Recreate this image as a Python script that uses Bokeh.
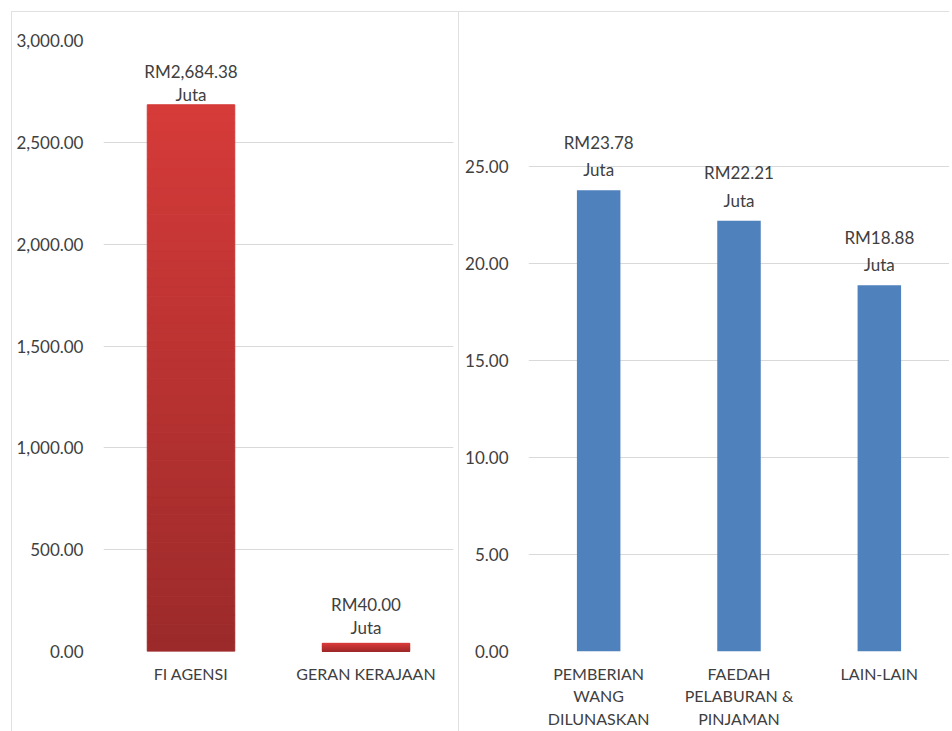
from bokeh.plotting import figure
from bokeh.layouts import row
from bokeh.models import NumeralTickFormatter, FixedTicker, Range1d
from bokeh.core.properties import value
from bokeh.embed import file_html
from bokeh.resources import INLINE

# ---- data ----
left_categories = ["FI AGENSI", "GERAN KERAJAAN"]
left_values = [2684.38, 40.00]
left_labels = ["RM2,684.38\nJuta", "RM40.00\nJuta"]
left_ticks = [0, 500, 1000, 1500, 2000, 2500, 3000]

right_categories = ["PEMBERIAN\nWANG\nDILUNASKAN", "FAEDAH\nPELABURAN &\nPINJAMAN", "LAIN-LAIN"]
right_values = [23.78, 22.21, 18.88]
right_labels = ["RM23.78\nJuta", "RM22.21\nJuta", "RM18.88\nJuta"]
right_ticks = [0, 5, 10, 15, 20, 25]

FONT = "Lato"
TXT = "#404040"
GRID = "#d9d9d9"
BORDER = "1px solid #e0e0e0"


def style(p, ticks):
    p.yaxis.ticker = FixedTicker(ticks=ticks)
    p.yaxis.formatter = NumeralTickFormatter(format="0,0.00")
    p.yaxis.axis_line_color = None
    p.yaxis.major_tick_line_color = None
    p.yaxis.minor_tick_line_color = None
    p.yaxis.major_tick_out = 0
    p.yaxis.major_tick_in = 0
    p.yaxis.minor_tick_out = 0
    p.yaxis.major_label_text_font = FONT
    p.yaxis.major_label_text_font_size = "17px"
    p.yaxis.major_label_text_color = TXT
    p.yaxis.major_label_standoff = 20
    p.xaxis.axis_line_color = None
    p.xaxis.major_tick_line_color = None
    p.xaxis.minor_tick_line_color = None
    p.xaxis.major_tick_out = 0
    p.xaxis.major_tick_in = 0
    p.xaxis.major_label_text_font = FONT
    p.xaxis.major_label_text_font_size = "16px"
    p.xaxis.major_label_text_color = TXT
    p.xaxis.major_label_standoff = 12
    p.xgrid.grid_line_color = None
    p.ygrid.grid_line_color = GRID
    p.ygrid.grid_line_width = 1
    p.outline_line_color = None
    p.background_fill_color = "white"
    p.border_fill_color = "white"


# ---- left chart ----
left = figure(x_range=left_categories, y_range=Range1d(0, 3000),
              frame_width=348, frame_height=610,
              min_border_left=91, min_border_right=7,
              min_border_top=28, min_border_bottom=81,
              output_backend="svg", toolbar_location=None)
left.margin = (11, 0, 0, 11)
style(left, left_ticks)
left.styles = {"border-left": BORDER, "border-top": BORDER, "border-right": BORDER}

# gradient bars built from segments of each value
top_rgb = (0xd5, 0x3b, 0x39)
bot_rgb = (0x9c, 0x2a, 0x2a)
n = 60
sx, sb, st, sc = [], [], [], []
for cat, v in zip(left_categories, left_values):
    for i in range(n):
        f = (i + 0.5) / n
        c = tuple(int(round(b + (t - b) * f)) for b, t in zip(bot_rgb, top_rgb))
        sx.append(cat)
        sb.append(v * i / n)
        st.append(v * (i + 1) / n)
        sc.append("#%02x%02x%02x" % c)
left.vbar(x=sx, bottom=sb, top=st, width=0.5, fill_color=sc, line_color=sc, line_width=1)
left.text(x=left_categories, y=left_values, text=left_labels,
          text_align="center", text_baseline="bottom", y_offset=[0, -5],
          text_font=value(FONT), text_font_size="17px", text_color=TXT,
          text_line_height=1.1)

# ---- right chart ----
right = figure(x_range=right_categories, y_range=Range1d(0, 31.5),
               frame_width=421, frame_height=610,
               min_border_left=69, min_border_right=0,
               min_border_top=28, min_border_bottom=81,
               output_backend="svg", toolbar_location=None)
right.margin = (11, 0, 0, 0)
style(right, right_ticks)
right.styles = {"border-top": BORDER}
right.vbar(x=right_categories, top=right_values, width=0.31,
           fill_color="#4f81bd", line_color=None)
right.text(x=right_categories, y=right_values, text=right_labels,
           text_align="center", text_baseline="bottom", y_offset=-10,
           text_font=value(FONT), text_font_size="17px", text_color=TXT,
           text_line_height=1.3)

layout = row(left, right, spacing=0)
open("out.html", "w").write(file_html(layout, INLINE))
